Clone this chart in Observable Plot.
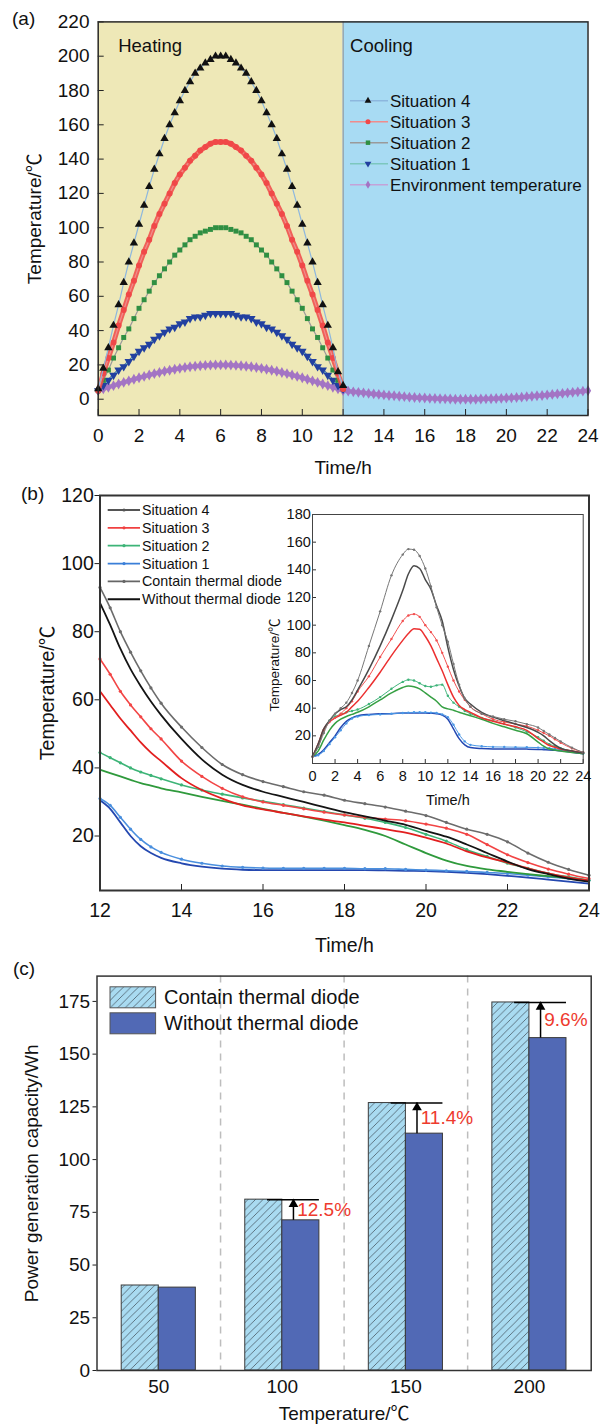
<!DOCTYPE html>
<html><head><meta charset="utf-8">
<script src="https://cdn.jsdelivr.net/npm/d3@7"></script>
<script src="https://cdn.jsdelivr.net/npm/@observablehq/plot@0.6"></script>
<style>
body{margin:0;background:#fff;}
#root{position:relative;width:603px;height:1425px;overflow:hidden;background:#fff;font-family:"Liberation Sans",Arial,"Noto Sans CJK SC",sans-serif;color:#111;}
.plabel{position:absolute;font-size:19px;line-height:1;}
.vlabel{position:absolute;width:130px;text-align:center;font-size:13.5px;line-height:14px;transform:rotate(-90deg);transform-origin:50% 50%;white-space:nowrap;}
</style></head><body><div id="root"></div>
<script>
// ================= DATA =================
// Panel (a): heating (0–12 h) and cooling (12–24 h) temperature profiles
const aHeatT = [0,0.25,0.5,0.75,1,1.25,1.5,1.75,2,2.25,2.5,2.75,3,3.25,3.5,3.75,4,4.25,4.5,4.75,5,5.25,5.5,5.75,6,6.25,6.5,6.75,7,7.25,7.5,7.75,8,8.25,8.5,8.75,9,9.25,9.5,9.75,10,10.25,10.5,10.75,11,11.25,11.5,11.75,12];
const aCoolT = [12.25,12.5,12.75,13,13.25,13.5,13.75,14,14.25,14.5,14.75,15,15.25,15.5,15.75,16,16.25,16.5,16.75,17,17.25,17.5,17.75,18,18.25,18.5,18.75,19,19.25,19.5,19.75,20,20.25,20.5,20.75,21,21.25,21.5,21.75,22,22.25,22.5,22.75,23,23.25,23.5,23.75,24];
const aSit4 = [6,18,30,43,55,68,80,91,102,113,124,134,143,152,160,167,174,180,185,190,193,196,198,200,200,200,198,196,193,190,185,180,174,167,160,152,143,134,124,113,102,91,80,68,55,43,30,16,8];
const aSit3 = [5,15,24,33,43,52,61,69,78,86,93,101,108,114,120,126,131,135,139,142,145,147,149,150,150,150,149,147,145,142,139,135,131,126,120,114,108,101,93,86,78,69,61,52,43,33,24,15,6];
const aSit2 = [5,11,17,24,30,36,41,47,53,58,63,68,72,76,80,84,87,90,93,95,97,98,99,100,100,100,99,98,97,95,93,90,87,84,80,76,72,68,63,58,53,47,41,36,30,24,17,11,6];
const aSit1 = [5,8,11,14,17,19,22,25,28,30,32,35,37,39,41,42,44,45,47,48,48,49,50,50,50,50,50,49,48,48,47,45,44,42,41,39,37,35,32,30,28,25,22,19,17,14,11,8,6];
const aEnvHeat = [5,6,7,7.9,8.9,9.8,10.7,11.6,12.5,13.3,14.1,14.9,15.6,16.3,16.9,17.5,18,18.5,18.9,19.2,19.5,19.7,19.9,20,20,20,19.9,19.7,19.5,19.2,18.9,18.5,18,17.5,16.9,16.3,15.6,14.9,14.1,13.3,12.5,11.6,10.7,9.8,8.9,7.9,7,6,5];
const aEnvCool = [4.7,4.3,4,3.7,3.4,3.1,2.8,2.5,2.2,2,1.7,1.5,1.2,1,0.8,0.7,0.5,0.4,0.3,0.2,0.1,0,0,0,0,0,0.1,0.2,0.3,0.4,0.5,0.7,0.8,1,1.2,1.5,1.7,2,2.2,2.5,2.8,3.1,3.4,3.7,4,4.3,4.7,5];
const aPhaseNames = ["Heating","Cooling"];
const aPhaseStart = [0,12];
const aPhaseEnd = [12,24];
const aXTicks = [0,2,4,6,8,10,12,14,16,18,20,22,24];
const aYTicks = [0,20,40,60,80,100,120,140,160,180,200,220];
const aSeriesNames = ["Situation 4","Situation 3","Situation 2","Situation 1","Environment temperature"];

// Panel (b) main: cooling stage 12–24 h
const bT = [12,12.25,12.5,12.75,13,13.25,13.5,14,14.5,15,15.5,16,16.5,17,17.5,18,18.5,19,19.5,20,20.5,21,21.5,22,22.5,23,23.5,24];
const bS4c = [93,87,80,74,68.5,63.5,59,52,46,41,38,36,34.5,33,32,30.5,29.5,28.5,27.3,26,24,22,20.5,18.3,15,12.3,10.2,8.5];
const bS4w = [88.5,82,75,69,64,59.5,55.5,48.5,42.5,38,35,33,31.5,30,28.5,27,25.8,24.5,23.3,21.5,19.8,17.5,15,12.5,10.3,8.8,7.5,6.6];
const bS3c = [72,67.5,62.5,58.5,55,51.5,48.5,42,37.5,34,31.5,30,29,28,27,26.2,25.5,25,24.5,23.5,22.3,20.5,17.5,14.5,12.2,10.3,8.8,7.5];
const bS3w = [62.5,58.5,54.5,51,47.5,44.5,42,37,33.5,31,29,27.8,26.8,25.8,24.8,24,23,22,21,19.5,17.8,15.5,13.7,12.2,10.5,9,7.8,7];
const bS2c = [44.5,43,41.5,40,38.8,37.8,36.8,35,33.5,32.3,31.2,30.2,29.2,28.2,27.2,26.2,25.2,24,22.5,20.5,18.5,16,14,12,10.5,9,8,7];
const bS2w = [39.5,38.5,37.5,36.5,35.5,34.8,34,32.8,31.5,30.3,29.2,28,26.8,25.7,24.5,23.2,21.8,20,17.5,15,12.8,11.2,10.2,9.5,8.8,8.2,7.6,7];
const bS1c = [31,29,25.5,22,19,16.8,15.2,13.2,12,11.2,10.8,10.6,10.5,10.5,10.5,10.5,10.4,10.4,10.2,10,9.8,9.6,9.3,9,8.5,8,7.5,7];
const bS1w = [30.5,28,24,20,17,15,13.6,12,11,10.4,10.1,10,10,10,10,10,10,9.9,9.8,9.7,9.5,9.2,8.8,8.3,7.8,7.2,6.6,6];
const bXTicks = [12,14,16,18,20,22,24];
const bYTicks = [20,40,60,80,100,120];
const bLegendNames = ["Situation 4","Situation 3","Situation 2","Situation 1","Contain thermal diode","Without thermal diode"];

// Panel (b) inset: full day 0–24 h
const iT = [0,0.5,1,1.5,2,2.5,3,3.5,4, 5,6,7,8, 8.5,9,9.5,10,10.5,11,11.5,12,12.5,13,13.5,14, 15,16,17,18,19,20, 20.5,21,21.5,22, 23,24];
const iS4c = [5,12,22,31,36,40,44,51,60, 85,110,136,151, 155,154.5,150,141,128,113,100,88,72,57,47,41, 36,34,32,30.5,28.5,26, 23.5,21,18.5,16, 11.5,8];
const iS4w = [5,14,25,31,36,39,41,46,53, 68,85,104,125, 137,143,141,133,126,114,103,84,68,56,47,43, 37,33.5,31,28.5,26,22.5, 20,16.5,13.5,11, 9,7.5];
const iS3c = [5,13,24,30,33,36,40,45,52, 63,77,90,103, 107,108,106,100,95,89,80,70,60,52,46,41, 36,32,30,28.5,27,24, 22,20,17.5,15, 11,8];
const iS3w = [5,14,25,30,33,35,37,41,45, 55,66,78,89, 94,97.5,97,92,85,76,67,57,48,42,39,37, 33,30.5,28.5,26.5,24,18, 15.5,13,11.8,10.5, 9,7.7];
const iS2c = [5,12,24,31,34,35.5,37,38,39, 43,48,54,59, 60.5,60,58,56,55.5,56.5,57,49,44,41,38,36, 33,31,28.5,26,23,19, 16.5,14,12.5,11, 9,7.5];
const iS2w = [5,9,17,24,29,32,34,35.5,37, 41,46,51,55, 56,55.5,54,51,48,45,41,39.5,38.5,37,35.8,34.5, 32,29,26.5,24,21.5,15.5, 12.5,10.5,9.8,9, 8,7];
const iS1c = [5,6,9,14,19,24,29,32.5,34, 35,35.5,36,36.5, 36.8,37,37,37,36.8,36.5,35.5,33.5,28,21,16,13.5, 12.5,12,11.9,11.8,11.7,11.5, 11.2,11,10.5,10, 9,7.5];
const iS1w = [5,6.5,10,15,20,26,30.5,33,34.5, 35.5,36,36,36.5, 36.5,36.5,36.5,36.5,36.3,36,35,32,25,18,13.5,11.5, 10.8,10.5,10.5,10.5,10.4,10.2, 10,9.8,9.5,9.2, 8.2,7];
const iXTicks = [0,2,4,6,8,10,12,14,16,18,20,22,24];
const iYTicks = [20,40,60,80,100,120,140,160,180];
const iYLabel = "Temperature/℃";

// Panel (c): power generation capacity
const cTemps = [50,100,150,200];
const cContain = [40.3,81,126.8,174.5];
const cWithout = [39.3,71.2,112.3,157.6];
const cGain = ["","12.5%","11.4%","9.6%"];
const cDividers = [75,125,175];
const cYTicks = [0,25,50,75,100,125,150,175];
const cLegendNames = ["Contain thermal diode","Without thermal diode"];

// ================= HELPERS =================
const FONT = '"Liberation Sans", Arial, "Noto Sans CJK SC", sans-serif';
const root = document.getElementById("root");
function place(node, left, top){ node.style.position="absolute"; node.style.left=left+"px"; node.style.top=top+"px"; root.appendChild(node); return node; }
function zip(ts, vs){ return ts.map((t,i)=>({t, v: vs[i]})); }
const triDown = {draw(ctx, size){ const y = -Math.sqrt(size/(Math.sqrt(3)*3)); ctx.moveTo(0,-2*y); ctx.lineTo(-Math.sqrt(3)*y, y); ctx.lineTo(Math.sqrt(3)*y, y); ctx.closePath(); }};
const baseStyle = {fontFamily: FONT, color:"#111", background:"transparent", overflow:"visible"};

// ================= PANEL (a) =================
const aStyles = {
  "Situation 4": {data: zip(aHeatT, aSit4), line:"#8db7de", fill:"#111", symbol:"triangle", r:3.1, band:0},
  "Situation 3": {data: zip(aHeatT, aSit3), line:"#f08c8c", fill:"#f04848", symbol:"circle", r:3.0, band:5},
  "Situation 2": {data: zip(aHeatT, aSit2), line:"#9a9a9a", fill:"#2f8f42", symbol:"square", r:2.8, band:0},
  "Situation 1": {data: zip(aHeatT, aSit1), line:"#7cc7be", fill:"#2240a0", symbol:triDown, r:3.2, band:2.5},
  "Environment temperature": {data: zip(aHeatT.concat(aCoolT), aEnvHeat.concat(aEnvCool)), line:"#c4a2d8", fill:"#a374c4", symbol:"diamond", r:3.3, band:4.5}
};
const phases = aPhaseNames.map((name,i)=>({name, start:aPhaseStart[i], end:aPhaseEnd[i]}));
const aMarks = [
  Plot.rect(phases, {x1:"start", x2:"end", fill:"name"}),
  Plot.ruleX([aPhaseEnd[0]], {stroke:"#8a8a8a", strokeWidth:1})
];
for (const name of aSeriesNames.slice().reverse()) {
  const s = aStyles[name];
  if (s.band) aMarks.push(Plot.line(s.data, {x:"t", y:"v", stroke:s.fill, strokeWidth:s.band, strokeOpacity:0.85}));
  aMarks.push(Plot.line(s.data, {x:"t", y:"v", stroke:s.line, strokeWidth:1.2}));
  aMarks.push(Plot.dot(s.data, {x:"t", y:"v", symbol:s.symbol, r:s.r, fill:s.fill, stroke:"none"}));
}
aMarks.push(
  Plot.text([phases[0]], {x:"start", text:"name", frameAnchor:"top", dy:17, dx:20, textAnchor:"start", fontSize:18.5, fill:"#111"}),
  Plot.text([phases[1]], {x:"start", text:"name", frameAnchor:"top", dy:17, dx:7, textAnchor:"start", fontSize:18.5, fill:"#111"}),
  Plot.axisX({ticks:aXTicks, tickSize:-6, tickPadding:18.5, fontSize:19, label:"Time/h", labelAnchor:"center", labelOffset:58, labelArrow:"none", stroke:"#222"}),
  Plot.axisY({ticks:aYTicks, tickSize:-6, tickPadding:14.7, fontSize:19, label:"Temperature/℃", labelAnchor:"center", labelOffset:71, labelArrow:"none", stroke:"#222"}),
  Plot.frame({stroke:"#2a2a2a", strokeWidth:1.5})
);
const plotA = Plot.plot({
  width:603, height:480, marginLeft:97.7, marginRight:15.5, marginTop:21.4, marginBottom:65,
  x:{domain:[0,24]}, y:{domain:[-9.5,220]},
  color:{domain:aPhaseNames, range:["#EEE8B7","#A8DBF3"]},
  style: baseStyle,
  marks: aMarks
});
place(plotA, 0, 0);

// legend (a)
(function(){
  const svg = d3.create("svg").attr("width",250).attr("height",110).style("font-family",FONT).style("overflow","visible");
  aSeriesNames.forEach((name,i)=>{
    const s = aStyles[name];
    const y = 10.7 + i*21;
    svg.append("line").attr("x1",5).attr("x2",43).attr("y1",y).attr("y2",y).attr("stroke",s.line).attr("stroke-width",1.5);
    const sym = typeof s.symbol === "string" ? ({triangle:d3.symbolTriangle,circle:d3.symbolCircle,square:d3.symbolSquare,diamond:d3.symbolDiamond})[s.symbol] : s.symbol;
    svg.append("path").attr("d", d3.symbol(sym, 20)()).attr("transform",`translate(23,${y})`).attr("fill",s.fill);
    svg.append("text").attr("x",45).attr("y",y).attr("dy","0.35em").attr("font-size",17).attr("fill","#111").text(name);
  });
  place(svg.node(), 345, 90);
})();

// ================= PANEL (b) =================
const bSeries = [
  {name:"Situation 1", c: bS1c, w: bS1w, cc:"#4a8fde", wc:"#2448b0"},
  {name:"Situation 2", c: bS2c, w: bS2w, cc:"#3db477", wc:"#2f9a3c"},
  {name:"Situation 3", c: bS3c, w: bS3w, cc:"#f24545", wc:"#e21f1f"},
  {name:"Situation 4", c: bS4c, w: bS4w, cc:"#6c6c6c", wc:"#141414"}
];
const bMarks = [];
for (const s of bSeries) {
  const dc = zip(bT, s.c), dw = zip(bT, s.w);
  bMarks.push(Plot.line(dw, {x:"t", y:"v", stroke:s.wc, strokeWidth:1.8, curve:"monotone-x"}));
  bMarks.push(Plot.line(dc, {x:"t", y:"v", stroke:s.cc, strokeWidth:1.6, curve:"monotone-x"}));
  bMarks.push(Plot.dot(dc, {x:"t", y:"v", r:1.6, fill:s.cc}));
}
bMarks.push(
  Plot.axisX({ticks:bXTicks, tickSize:-6, tickPadding:18.5, fontSize:19.5, label:"Time/h", labelAnchor:"center", labelOffset:61, labelArrow:"none", stroke:"#222"}),
  Plot.axisY({ticks:bYTicks, tickSize:5, tickPadding:1.2, fontSize:19.5, label:"Temperature/℃", labelAnchor:"center", labelOffset:60, labelArrow:"none", stroke:"#222"}),
  Plot.frame({stroke:"#333", strokeWidth:2})
);
const plotB = Plot.plot({
  width:603, height:495, marginLeft:99.5, marginRight:14.5, marginTop:30, marginBottom:70,
  x:{domain:[12,24]}, y:{domain:[4,120]},
  style: baseStyle,
  marks: bMarks
});
place(plotB, 0, 465);

// legend (b)
(function(){
  const cols = ["#555","#f04040","#3db477","#3a7fd8","#666","#111"];
  const svg = d3.create("svg").attr("width",200).attr("height",110).style("font-family",FONT).style("overflow","visible");
  bLegendNames.forEach((name,i)=>{
    const y = 10 + i*17.85;
    svg.append("line").attr("x1",7.7).attr("x2",40).attr("y1",y).attr("y2",y).attr("stroke",cols[i]).attr("stroke-width",1.8);
    if (i < 5) svg.append("circle").attr("cx",24).attr("cy",y).attr("r",1.6).attr("fill",cols[i]);
    svg.append("text").attr("x",42).attr("y",y).attr("dy","0.35em").attr("font-size",14.3).attr("fill","#111").text(name);
  });
  place(svg.node(), 100, 500);
})();

// inset (b)
const iSeries = [
  {c: iS1c, w: iS1w, cc:"#4a97e6", wc:"#2347b2"},
  {c: iS2c, w: iS2w, cc:"#3fb47a", wc:"#36a043"},
  {c: iS3c, w: iS3w, cc:"#f25050", wc:"#ec3030"},
  {c: iS4c, w: iS4w, cc:"#777", wc:"#4a4a4a"}
];
const iMarks = [];
for (const s of iSeries) {
  const dc = zip(iT, s.c), dw = zip(iT, s.w);
  iMarks.push(Plot.line(dw, {x:"t", y:"v", stroke:s.wc, strokeWidth:1.5, curve:"monotone-x"}));
  iMarks.push(Plot.line(dc, {x:"t", y:"v", stroke:s.cc, strokeWidth:1, curve:"monotone-x"}));
  iMarks.push(Plot.dot(dc, {x:"t", y:"v", r:1.2, fill:s.cc}));
}
iMarks.push(
  Plot.axisX({ticks:iXTicks, tickSize:-4, tickPadding:11, fontSize:14.5, label:"Time/h", labelAnchor:"center", labelOffset:41, labelArrow:"none", stroke:"#333"}),
  Plot.axisY({ticks:iYTicks, tickSize:-4, tickPadding:5.7, fontSize:14.5, label:null, stroke:"#333"}),
  Plot.frame({stroke:"#444", strokeWidth:1})
);
const plotI = Plot.plot({
  width:322, height:305, marginLeft:46, marginRight:5.3, marginTop:10, marginBottom:46,
  x:{domain:[0,24]}, y:{domain:[0,180]},
  style: {...baseStyle, fontSize:"14px"},
  marks: iMarks
});
place(plotI, 265.7, 504);
(function(){
  const d = document.createElement("div"); d.className = "vlabel"; d.textContent = iYLabel;
  place(d, 275 - 65, 665 - 7);
})();

// ================= PANEL (c) =================
const cData = cTemps.map((t,i)=>({temp:t, contain:cContain[i], without:cWithout[i], gain:cGain[i]}));
const cAnno = cData.filter(d => d.gain !== "");
const plotC = Plot.plot({
  width:603, height:465, marginLeft:96.5, marginRight:12.3, marginTop:15.6, marginBottom:55,
  x:{domain:[25,225]}, y:{domain:[0,187]},
  style: baseStyle,
  marks: [
    Plot.ruleX(cDividers, {stroke:"#bdbdbd", strokeWidth:1.5, strokeDasharray:"7,6"}),
    Plot.rectY(cData, {x1: d => d.temp - 15, x2: d => d.temp, y:"contain", fill:"url(#hatchC)", stroke:"#3a3a3a", strokeWidth:1}),
    Plot.rectY(cData, {x1: d => d.temp, x2: d => d.temp + 15, y:"without", fill:"#5169b5", stroke:"#3a3a3a", strokeWidth:1}),
    Plot.ruleY(cAnno, {y:"contain", x1: d => d.temp - 6, x2: d => d.temp + 15, stroke:"#000", strokeWidth:1.5}),
    Plot.ruleX(cAnno, {x: d => d.temp + 4.5, y1:"without", y2:"contain", stroke:"#000", strokeWidth:1.5}),
    Plot.dot(cAnno, {x: d => d.temp + 4.5, y:"contain", symbol:"triangle", r:3.6, fill:"#000", dy:4.5}),
    Plot.text(cAnno, {x: d => d.temp + 6, y: d => (d.contain + d.without)/2, text:"gain", textAnchor:"start", fill:"#ee3a2e", fontSize:19}),
    Plot.axisX({ticks:cTemps, tickSize:0, tickPadding:8.8, fontSize:19, label:"Temperature/℃", labelAnchor:"center", labelOffset:49, labelArrow:"none"}),
    Plot.axisY({ticks:cYTicks, tickSize:4, tickPadding:2.9, fontSize:19, label:"Power generation capacity/Wh", labelAnchor:"center", labelOffset:72.5, labelArrow:"none", stroke:"#222"}),
    Plot.frame({stroke:"#333", strokeWidth:1.5})
  ]
});
// hatch pattern definition
(function(){
  const svg = d3.select(plotC);
  const defs = svg.insert("defs", ":first-child");
  const p = defs.append("pattern").attr("id","hatchC").attr("patternUnits","userSpaceOnUse").attr("width",7.5).attr("height",7.5);
  p.append("rect").attr("width",7.5).attr("height",7.5).attr("fill","#a9dbf1");
  p.append("path").attr("d","M-1,1 L1,-1 M0,7.5 L7.5,0 M6.5,8.5 L8.5,6.5").attr("stroke","#4a5a66").attr("stroke-width",0.8);
})();
place(plotC, 0, 960);

// legend (c)
(function(){
  const svg = d3.create("svg").attr("width",320).attr("height",60).style("font-family",FONT).style("overflow","visible");
  const defs = svg.append("defs");
  const p = defs.append("pattern").attr("id","hatchL").attr("patternUnits","userSpaceOnUse").attr("width",7.5).attr("height",7.5);
  p.append("rect").attr("width",7.5).attr("height",7.5).attr("fill","#a9dbf1");
  p.append("path").attr("d","M-1,1 L1,-1 M0,7.5 L7.5,0 M6.5,8.5 L8.5,6.5").attr("stroke","#4a5a66").attr("stroke-width",0.8);
  const fills = ["url(#hatchL)","#5169b5"];
  cLegendNames.forEach((name,i)=>{
    const y0 = 3.8 + i*26;
    svg.append("rect").attr("x",5).attr("y",y0).attr("width",45.6).attr("height",21).attr("fill",fills[i]).attr("stroke","#555").attr("stroke-width",1);
    svg.append("text").attr("x",59).attr("y",y0+10.5).attr("dy","0.35em").attr("font-size",20).attr("fill","#111").text(name);
  });
  place(svg.node(), 105, 983);
})();

// panel tags
[["(a)",12,9],["(b)",21,484],["(c)",13,959]].forEach(([t,x,y])=>{
  const d = document.createElement("div"); d.className="plabel"; d.textContent=t; place(d,x,y);
});
</script></body></html>
